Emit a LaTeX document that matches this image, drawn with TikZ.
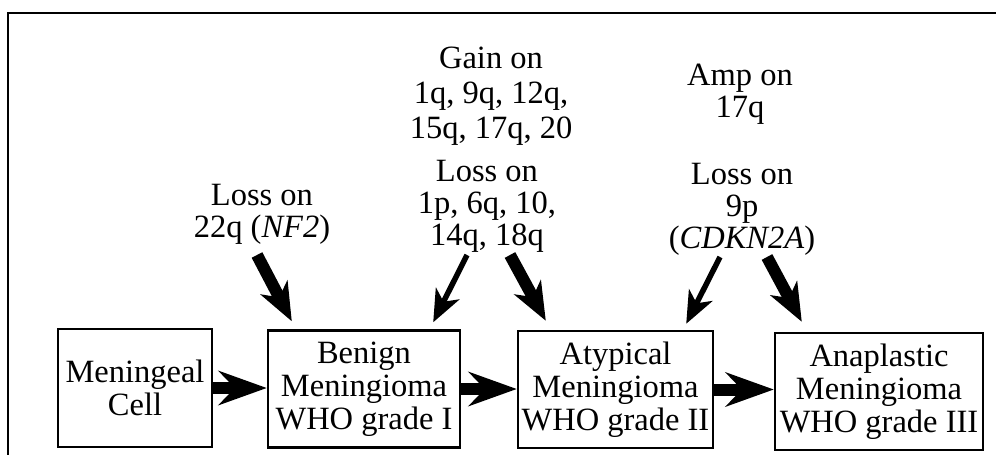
\documentclass[tikz,border=0pt]{standalone}
\usepackage{fontspec}
\setmainfont{Liberation Serif}
\usetikzlibrary{arrows.meta,calc}
\begin{document}
\begin{tikzpicture}[x=1pt,y=-1pt,
  box/.style={draw,line width=2.4pt,minimum width=#1,minimum height=117pt,
    inner sep=0pt,align=center,font=\fontsize{32.5}{33}\selectfont},
  lbl/.style={inner sep=0pt,align=center,font=\fontsize{32.5}{32}\selectfont},
  bigarrow/.style={line width=12pt,-{Stealth[length=48pt,width=34pt,inset=16pt]}},
  fatarrow/.style={line width=12pt,-{Stealth[length=38pt,width=30pt,inset=11pt]}},
  thinarrow/.style={line width=5.5pt,-{Stealth[length=32pt,width=26pt,inset=9pt]}},
]
\useasboundingbox (0,0) rectangle (996,455);
% frame
\draw[line width=2.2pt] (8,455) -- (8,13) -- (996,13);

% stages
\node[box=154pt,minimum height=118pt] (cell) at (135,388) {Meningeal\\Cell};
\node[box=192pt] (benign) at (364,389) {Benign\\Meningioma\\WHO grade I};
\node[box=195pt] (atyp) at (615.5,389.5) {Atypical\\Meningioma\\WHO grade II};
\node[box=208pt] (anap) at (879,391.5) {Anaplastic\\Meningioma\\WHO grade III};

% genetic events
\node[lbl] (nf2) at (262,214) {Loss on\\22q (\textit{NF2})};
\node[lbl,font=\fontsize{32.5}{35}\selectfont] (gain) at (491,96) {Gain on\\1q, 9q, 12q,\\15q, 17q, 20};
\node[lbl] (loss2) at (487,206) {Loss on\\1p, 6q, 10,\\14q, 18q};
\node[lbl] (amp) at (740,94) {Amp on\\17q};
\node[lbl] (loss3) at (742,209) {Loss on\\9p\\(\textit{CDKN2A})};

\coordinate (t1) at (257,255);
\coordinate (t2) at (467,255);
\coordinate (t3) at (510,255);
\coordinate (t4) at (720,257);
\coordinate (t5) at (767,257);

% progression
\draw[bigarrow] (cell.east) -- (cell.east -| benign.west);
\draw[bigarrow] (benign.east) -- (benign.east -| atyp.west);
\draw[bigarrow] (atyp.east) -- (atyp.east -| anap.west);

% events acting on each stage
\draw[fatarrow] (t1) -- ([xshift=25pt,yshift=8pt]benign.north west);
\draw[thinarrow] (t2) -- ([xshift=-28pt,yshift=7pt]benign.north east);
\draw[fatarrow] (t3) -- ([xshift=29pt,yshift=9pt]atyp.north west);
\draw[thinarrow] (t4) -- ([xshift=-28pt,yshift=6pt]atyp.north east);
\draw[fatarrow] (t5) -- ([xshift=28pt,yshift=10pt]anap.north west);
\end{tikzpicture}
\end{document}
